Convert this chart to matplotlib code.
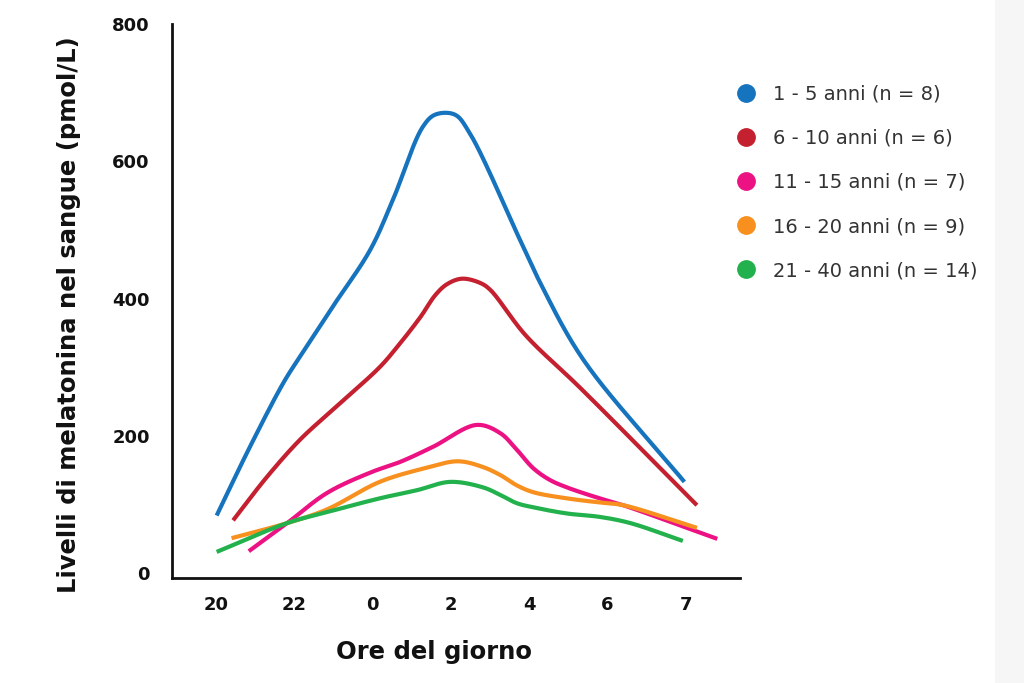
import numpy as np
import matplotlib
matplotlib.use("Agg")
import matplotlib.pyplot as plt
from matplotlib.lines import Line2D
from matplotlib.patches import Rectangle

# ---- data (x in tick-index units: 0 = "20", 1 = "22", ... 6 = "7") ----
hour_labels = ["20", "22", "0", "2", "4", "6", "7"]
y_ticks = [0, 200, 400, 600, 800]

labels = ["1 - 5 anni (n = 8)", "6 - 10 anni (n = 6)", "11 - 15 anni (n = 7)",
          "16 - 20 anni (n = 9)", "21 - 40 anni (n = 14)"]
colors = ["#1673be", "#c4202f", "#ec1283", "#f7901e", "#22b14c"]

blue_x = [0.01, 0.43, 0.86, 1.07, 1.49, 1.97, 2.26, 2.64, 2.80, 3.05, 3.24, 3.88, 4.14, 4.69, 5.98]
blue_y = [84, 183, 277, 315, 388, 471, 544, 650, 668, 668, 641, 486, 423, 311, 133]

red_x = [0.22, 0.65, 1.07, 1.49, 2.09, 2.31, 2.61, 2.80, 2.95, 3.14, 3.37, 3.50, 3.95, 4.65, 6.14]
red_y = [77, 140, 194, 238, 300, 329, 373, 405, 421, 429, 423, 413, 347, 270, 99]

pink_x = [0.42, 0.91, 1.42, 1.98, 2.35, 2.77, 3.33, 3.63, 3.84, 4.05, 4.26, 4.48, 4.90, 5.20, 6.40]
pink_y = [32, 73, 117, 147, 162, 184, 216, 204, 180, 153, 136, 125, 109, 99, 50]

orange_x = [0.20, 0.91, 1.42, 2.09, 2.67, 3.09, 3.40, 3.63, 3.84, 4.05, 4.48, 4.90, 5.20, 6.14]
orange_y = [51, 73, 93, 133, 153, 163, 155, 143, 128, 118, 109, 103, 99, 66]

green_x = [0.01, 0.91, 1.42, 2.09, 2.57, 2.99, 3.41, 3.63, 3.84, 4.05, 4.48, 4.90, 5.29, 5.96]
green_y = [31, 73, 89, 109, 121, 133, 125, 114, 102, 96, 87, 82, 73, 47]

series_x = [blue_x, red_x, pink_x, orange_x, green_x]
series_y = [blue_y, red_y, pink_y, orange_y, green_y]

Y_SCALE = 0.686 / 78.3  # value units -> x-index units (screen aspect)


def catmull_rom(x, y, per_seg=40, alpha=0.5):
    P = np.column_stack([np.asarray(x, float), np.asarray(y, float) * Y_SCALE])
    P = np.vstack([2 * P[0] - P[1], P, 2 * P[-1] - P[-2]])
    out = []
    for i in range(1, len(P) - 2):
        p0, p1, p2, p3 = P[i - 1], P[i], P[i + 1], P[i + 2]
        t0 = 0.0
        t1 = t0 + np.linalg.norm(p1 - p0) ** alpha
        t2 = t1 + np.linalg.norm(p2 - p1) ** alpha
        t3 = t2 + np.linalg.norm(p3 - p2) ** alpha
        t = np.linspace(t1, t2, per_seg)[:, None]
        a1 = (t1 - t) / (t1 - t0) * p0 + (t - t0) / (t1 - t0) * p1
        a2 = (t2 - t) / (t2 - t1) * p1 + (t - t1) / (t2 - t1) * p2
        a3 = (t3 - t) / (t3 - t2) * p2 + (t - t2) / (t3 - t2) * p3
        b1 = (t2 - t) / (t2 - t0) * a1 + (t - t0) / (t2 - t0) * a2
        b2 = (t3 - t) / (t3 - t1) * a2 + (t - t1) / (t3 - t1) * a3
        c = (t2 - t) / (t2 - t1) * b1 + (t - t1) / (t2 - t1) * b2
        out.append(c if i == 1 else c[1:])
    C = np.vstack(out)
    return C[:, 0], C[:, 1] / Y_SCALE


plt.rcParams['font.family'] = ['DejaVu Sans']

fig = plt.figure(figsize=(10.24, 6.83), dpi=100)
fig.patches.append(Rectangle((995 / 1024, 0), 29 / 1024, 1, transform=fig.transFigure,
                             facecolor="#f6f6f6", edgecolor="none", zorder=0))
ax = fig.add_axes([172 / 1024, 1 - 578 / 683, (740 - 172) / 1024, (578 - 24) / 683])
ax.set_facecolor("none")

for xs_, ys_, c in zip(series_x, series_y, colors):
    sx, sy = catmull_rom(xs_, ys_)
    ax.plot(sx, sy, color=c, lw=3.0, solid_capstyle="butt", zorder=3)

ax.set_xlim(-0.56, 6.69)
ax.set_ylim(-7, 800)
ax.set_xticks(range(len(hour_labels)))
ax.set_xticklabels(hour_labels)
ax.set_yticks(y_ticks)
ax.tick_params(axis="both", length=0, labelsize=13, colors="#111111")
ax.tick_params(axis="x", pad=13)
ax.tick_params(axis="y", pad=16)
for lab in ax.get_xticklabels() + ax.get_yticklabels():
    lab.set_fontweight("bold")

for s in ["top", "right"]:
    ax.spines[s].set_visible(False)
for s in ["left", "bottom"]:
    ax.spines[s].set_linewidth(2.0)
    ax.spines[s].set_color("#111111")

ax.set_ylabel("Livelli di melatonina nel sangue (pmol/L)", fontsize=17.5, fontweight="bold",
              color="#111111")
ax.yaxis.set_label_coords(-0.160, 0.475)
ax.set_xlabel("Ore del giorno", fontsize=17.5, fontweight="bold", color="#111111")
ax.xaxis.set_label_coords(0.461, -0.112)

handles = [Line2D([], [], marker="o", ls="none", markersize=12.5, markerfacecolor=c,
                  markeredgecolor=c) for c in colors]
leg = fig.legend(handles, labels, loc="upper left", bbox_to_anchor=(728.5 / 1024, 1 - 77 / 683),
                 frameon=False, fontsize=14, labelspacing=1.29, handletextpad=0.89,
                 handlelength=1.0, borderaxespad=0)
for t in leg.get_texts():
    t.set_color("#333333")

fig.savefig("out.png", dpi=100)
